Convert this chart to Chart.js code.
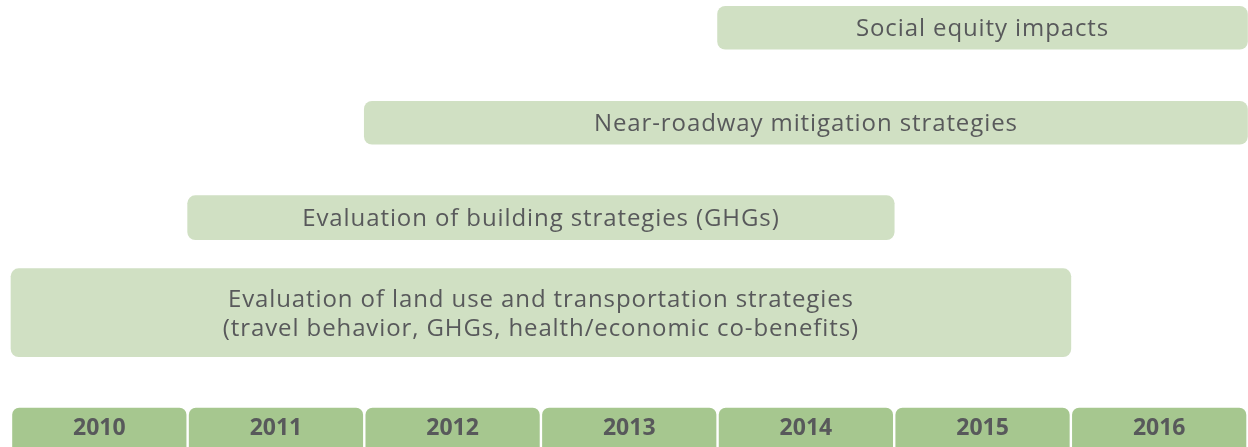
<!DOCTYPE html>
<html lang="en">
<head>
<meta charset="UTF-8">
<title>Research timeline</title>
<style>
  body { margin: 0; background: #fff; }
  #wrap { width: 1248px; height: 447px; }
</style>
</head>
<body>
<div id="wrap"><canvas id="timeline"></canvas></div>
<script src="https://cdn.jsdelivr.net/npm/chart.js"></script>
<script>
// tick labels along the bottom
const years = ['2010', '2011', '2012', '2013', '2014', '2015', '2016'];

// one entry per bar, top to bottom (text lines shown inside the bar)
const tasks = [
    ['Social equity impacts'],
    ['Near-roadway mitigation strategies'],
    ['Evaluation of building strategies (GHGs)'],
    ['Evaluation of land use and transportation strategies', '(travel behavior, GHGs, health/economic co-benefits)']
];
const firstYear = [2014, 2012, 2011, 2010];
const lastYear = [2016, 2016, 2014, 2015];

// styling
const barColor = '#d0e0c3';
const yearColor = '#a6c78f';
const textColor = '#58595b';
const fontFamily = '"Open Sans", "Liberation Sans", sans-serif';
const barHeight = [43, 43, 44, 88];

// green year boxes behind the x tick labels
const yearBoxes = {
    id: 'yearBoxes',
    beforeDraw(chart) {
        const x = chart.scales.x;
        const ctx = chart.ctx;
        ctx.save();
        ctx.fillStyle = yearColor;
        years.forEach(y => {
            const left = x.getPixelForValue(+y) + 1.2;
            const right = x.getPixelForValue(+y + 1) - 1.2;
            ctx.beginPath();
            ctx.roundRect(left, x.top, right - left, 60, 7);
            ctx.fill();
        });
        ctx.restore();
    }
};

// task names written in the middle of each bar
const barText = {
    id: 'barText',
    afterDatasetsDraw(chart) {
        const ctx = chart.ctx;
        ctx.save();
        ctx.font = '24px ' + fontFamily;
        ctx.letterSpacing = '0.9px';
        ctx.fillStyle = textColor;
        ctx.textAlign = 'center';
        ctx.textBaseline = 'middle';
        tasks.forEach((lines, i) => {
            const bar = chart.getDatasetMeta(i).data[i];
            const cx = (bar.x + bar.base) / 2;
            lines.forEach((line, k) => {
                ctx.fillText(line, cx, bar.y + 1.5 + (k - (lines.length - 1) / 2) * 29);
            });
        });
        ctx.restore();
    }
};

new Chart(document.getElementById('timeline'), {
    type: 'bar',
    data: {
        // last, empty row is the band taken by the year boxes
        labels: tasks.map(t => t.join(' ')).concat(['']),
        datasets: tasks.map((t, i) => ({
            label: t.join(' '),
            data: tasks.map((_, j) => j === i ? [firstYear[i], lastYear[i] + 1] : null),
            backgroundColor: barColor,
            borderRadius: 8,
            borderSkipped: false,
            barThickness: barHeight[i],
            grouped: false,
            clip: false
        }))
    },
    options: {
        indexAxis: 'y',
        responsive: true,
        maintainAspectRatio: false,
        animation: false,
        layout: { padding: { top: 27.75, left: 11, right: 0.5, bottom: -2.25 } },
        plugins: {
            legend: { display: false },
            tooltip: { enabled: false }
        },
        scales: {
            x: {
                type: 'linear',
                min: 2010,
                max: 2017,
                grid: { display: false, drawTicks: false },
                border: { display: false },
                afterBuildTicks: scale => {
                    scale.ticks = years.map(y => ({ value: +y + 0.5 }));
                },
                ticks: {
                    padding: 7,
                    maxRotation: 0,
                    color: textColor,
                    font: { family: fontFamily, size: 23, weight: 'bold' },
                    callback: (value, index) => years[index]
                }
            },
            y: {
                display: false,
                offset: false
            }
        }
    },
    plugins: [yearBoxes, barText]
});
</script>
</body>
</html>
